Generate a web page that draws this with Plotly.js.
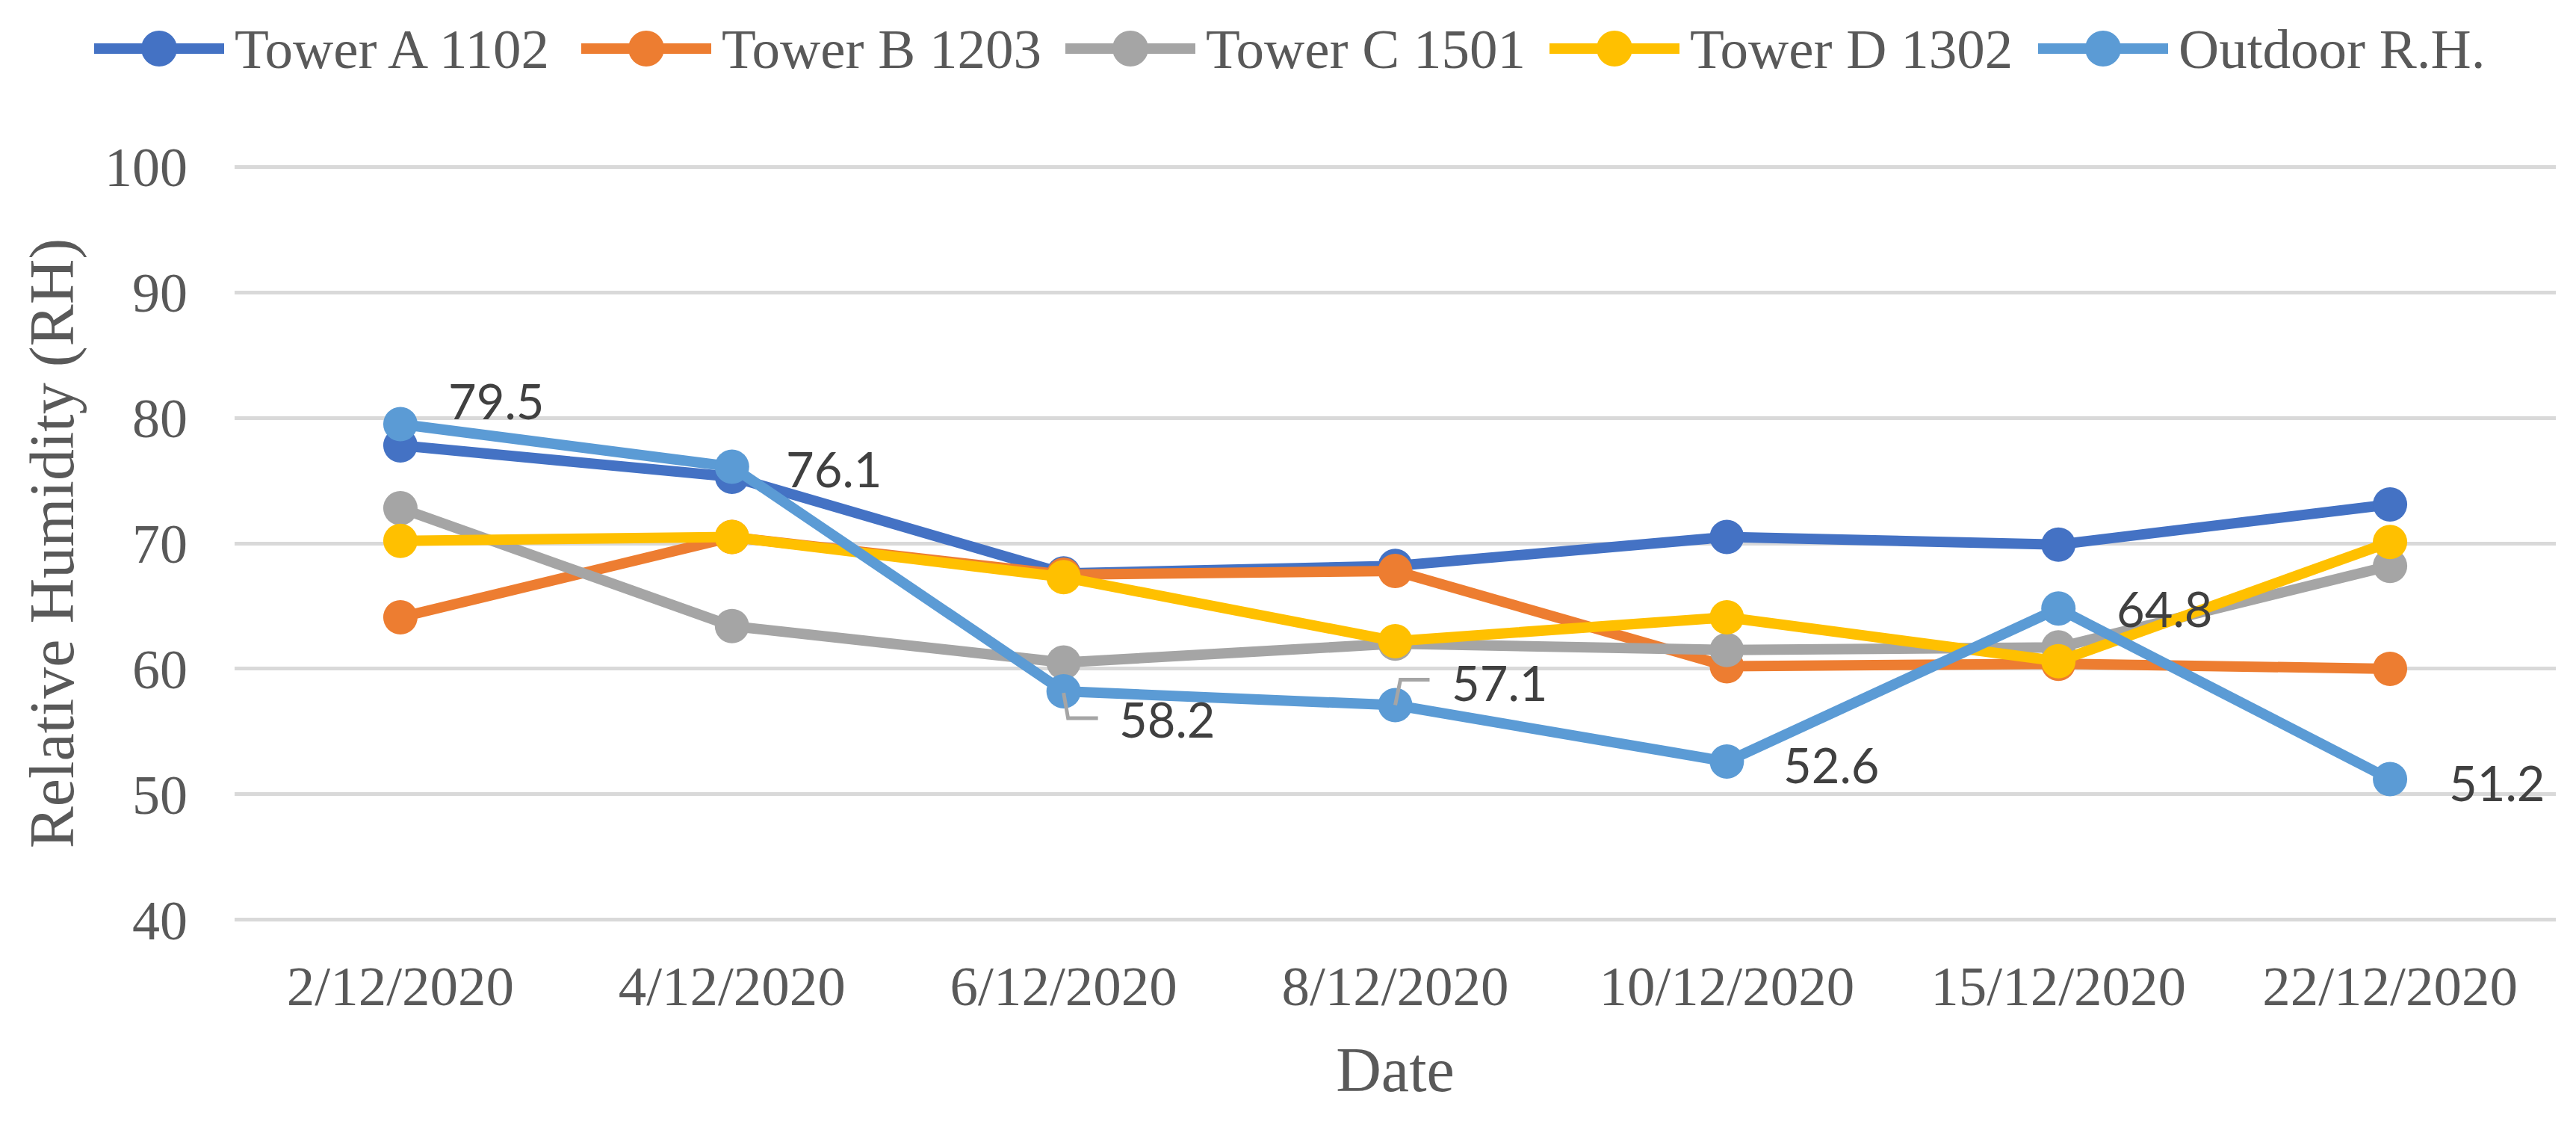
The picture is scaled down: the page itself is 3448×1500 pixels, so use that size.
<!DOCTYPE html>
<html>
<head>
<meta charset="utf-8">
<script src="https://cdn.plot.ly/plotly-3.0.1.min.js"></script>
<style>html,body{margin:0;padding:0;background:#fff;}#chart{width:3448px;height:1500px;}</style>
</head>
<body>
<div id="chart"></div>
<script>
// ---- data ----
const dates = ['2/12/2020','4/12/2020','6/12/2020','8/12/2020','10/12/2020','15/12/2020','22/12/2020'];
const seriesNames = ['Tower A 1102','Tower B 1203','Tower C 1501','Tower D 1302','Outdoor R.H.'];
const towerA  = [77.8, 75.3, 67.6, 68.2, 70.5, 69.9, 73.1];
const towerB  = [64.1, 70.5, 67.5, 67.8, 60.2, 60.4, 60.0];
const towerC  = [72.8, 63.4, 60.5, 62.0, 61.5, 61.7, 68.2];
const towerD  = [70.2, 70.5, 67.3, 62.2, 64.1, 60.6, 70.1];
const outdoor = [79.5, 76.1, 58.2, 57.1, 52.6, 64.8, 51.2];
const yTicks = [40, 50, 60, 70, 80, 90, 100];

// ---- style ----
const colors = ['#4472c4','#ed7d31','#a5a5a5','#ffc000','#5b9bd5'];
const serif = 'Liberation Serif, Times New Roman, serif';
const labelFont = 'Lato, Liberation Sans, sans-serif';
const textGray = '#595959';
const W = 3448, H = 1500;
const M = {l: 314, r: 27, t: 220, b: 266};
const plotW = W - M.l - M.r, plotH = H - M.t - M.b;
const px2paperX = px => (px - M.l) / plotW;
const px2paperY = py => (H - M.b - py) / plotH;

// label offsets (px) for outdoor data labels: [xshift, yshift]
const labelShift = [[62, 32], [70, -2], [72, -37], [73, 31], [74, -4], [76, 0], [77, -4]];
// leader lines (pixel paths relative to the point) for labels index 2 and 3
const leaders = {2: 'M0,-2 L6,-36 L46,-36', 3: 'M0,0 L7,34 L46,34'};

const allSeries = [towerA, towerB, towerC, towerD, outdoor];
const traces = allSeries.map((vals, i) => ({
  type: 'scatter', mode: 'lines+markers',
  x: dates, y: vals, name: seriesNames[i],
  line: {color: colors[i], width: 14},
  marker: {color: colors[i], size: 46, line: {width: 0}},
  cliponaxis: false,
  showlegend: false,
  hoverinfo: 'x+y+name'
}));

const annotations = [];
const shapes = [];

outdoor.forEach((v, i) => {
  annotations.push({
    xref: 'x', yref: 'y', x: dates[i], y: v,
    text: v.toFixed(1), showarrow: false,
    xanchor: 'left', yanchor: 'middle',
    xshift: labelShift[i][0], yshift: labelShift[i][1],
    font: {family: labelFont, size: 65, color: '#404040'}
  });
  if (leaders[i]) {
    shapes.push({
      type: 'path', xref: 'x', yref: 'y',
      xsizemode: 'pixel', ysizemode: 'pixel',
      xanchor: i, yanchor: v,
      path: leaders[i],
      line: {color: '#a5a5a5', width: 5},
      layer: 'above'
    });
  }
});

// custom legend (wide line+marker icons as in the original)
const legendX = [126, 778, 1426, 2074, 2728];
const legendY = px2paperY(65);
seriesNames.forEach((name, i) => {
  const ax = px2paperX(legendX[i]);
  shapes.push({
    type: 'line', xref: 'paper', yref: 'paper',
    xsizemode: 'pixel', ysizemode: 'pixel',
    xanchor: ax, yanchor: legendY,
    x0: 0, x1: 174, y0: 0, y1: 0,
    line: {color: colors[i], width: 14}
  });
  shapes.push({
    type: 'circle', xref: 'paper', yref: 'paper',
    xsizemode: 'pixel', ysizemode: 'pixel',
    xanchor: ax, yanchor: legendY,
    x0: 87 - 24, x1: 87 + 24, y0: -24, y1: 24,
    fillcolor: colors[i], line: {width: 0}
  });
  annotations.push({
    xref: 'paper', yref: 'paper',
    x: px2paperX(legendX[i] + 186), y: legendY,
    xanchor: 'left', yanchor: 'middle',
    text: name, showarrow: false,
    font: {family: serif, size: 75, color: textGray}
  });
});

const layout = {
  width: W, height: H,
  margin: M,
  paper_bgcolor: '#ffffff', plot_bgcolor: '#ffffff',
  showlegend: false,
  xaxis: {
    type: 'category', range: [-0.5, dates.length - 0.5],
    showgrid: false, zeroline: false, showline: false, ticks: '',
    tickfont: {family: serif, size: 75, color: textGray},
    ticklabelstandoff: 35,
    automargin: true,
    title: {text: 'Date', font: {family: serif, size: 84, color: textGray}, standoff: 41}
  },
  yaxis: {
    range: [39.8, 100.2], tickvals: yTicks, ticktext: yTicks.map(String),
    showgrid: true, gridcolor: '#d9d9d9', gridwidth: 5,
    zeroline: false, showline: false, ticks: '',
    tickfont: {family: serif, size: 74, color: textGray},
    ticklabelstandoff: 62,
    automargin: true,
    title: {text: 'Relative Humidity (RH)', font: {family: serif, size: 84, color: textGray}, standoff: 13}
  },
  annotations: annotations,
  shapes: shapes
};

Plotly.newPlot('chart', traces, layout, {displayModeBar: false, staticPlot: true});
</script>
</body>
</html>
